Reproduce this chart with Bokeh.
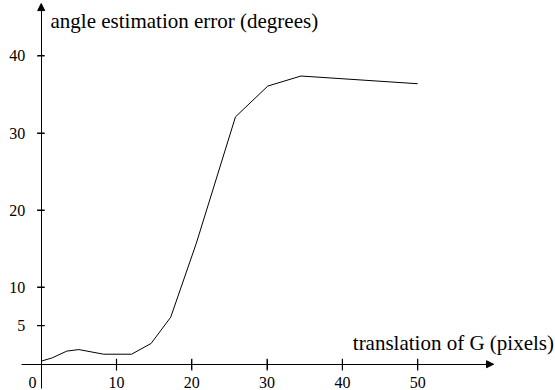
from bokeh.plotting import figure
from bokeh.models import Arrow, NormalHead, Label, FixedTicker, Range1d, LinearAxis
from bokeh.embed import file_html
from bokeh.resources import INLINE

# data
shift = [0, 1.4, 3.4, 5.0, 8.3, 12.0, 14.6, 17.2, 20.6, 25.8, 30.1, 34.5, 50.0]
error = [0.4, 0.8, 1.7, 1.9, 1.3, 1.3, 2.7, 6.1, 15.7, 32.1, 36.1, 37.4, 36.4]
x_ticks = [0, 10, 20, 30, 40, 50]
y_ticks = [5, 10, 20, 30, 40]
x_title = "translation of G (pixels)"
y_title = "angle estimation error (degrees)"

FONT = "Liberation Serif"

p = figure(width=555, height=390, output_backend="svg", toolbar_location=None,
           x_range=Range1d(-5.405, 68.30), y_range=Range1d(-3.41, 47.2),
           min_border=0, x_axis_type=None, y_axis_type=None)
p.outline_line_color = None
p.xgrid.visible = False
p.ygrid.visible = False
p.background_fill_color = "white"
p.border_fill_color = "white"

xa = LinearAxis(fixed_location=0, ticker=FixedTicker(ticks=x_ticks), bounds=(-2.6, 60.0))
ya = LinearAxis(fixed_location=0, ticker=FixedTicker(ticks=y_ticks), bounds=(-3.14, 46.7))
for ax in (xa, ya):
    ax.axis_line_color = "black"
    ax.axis_line_width = 1
    ax.major_tick_line_color = "black"
    ax.major_tick_line_width = 1
    ax.minor_tick_line_color = None
    ax.major_label_text_font = FONT
    ax.major_label_text_font_size = "16px"
    ax.major_label_text_color = "black"
xa.major_tick_in = 5
xa.major_tick_out = 5
xa.major_label_standoff = 8
xa.major_label_overrides = {0: ""}
ya.major_tick_in = 3
ya.major_tick_out = 4
ya.major_label_standoff = 12
p.add_layout(xa, "below")
p.add_layout(ya, "left")

# tick marks crossing the axes, at the ticker positions
xt = x_ticks[1:]
p.segment(x0=xt, y0=[-0.8] * len(xt), x1=xt, y1=[0.7] * len(xt),
          line_color="black", line_width=1.2)
p.segment(x0=[-0.55] * len(y_ticks), y0=y_ticks, x1=[0.45] * len(y_ticks), y1=y_ticks,
          line_color="black", line_width=1.2)

p.add_layout(Arrow(start=None, end=NormalHead(size=7, fill_color="black", line_color="black", line_width=1),
                   x_start=59.0, y_start=0, x_end=60.07, y_end=0, line_color="black", line_width=1))
p.add_layout(Arrow(start=None, end=NormalHead(size=7, fill_color="black", line_color="black", line_width=1),
                   x_start=0, y_start=45.8, x_end=0, y_end=46.8, line_color="black", line_width=1))

p.line(shift, error, line_color="black", line_width=1)

p.add_layout(Label(x=-1.16, y=0, y_offset=-24, text="0", text_align="center", text_baseline="bottom",
                   text_font=FONT, text_font_size="16px", text_color="black"))
p.add_layout(Label(x=1.24, y=44.6, text=y_title, text_align="left", text_baseline="middle",
                   text_font=FONT, text_font_size="21px", text_color="black"))
p.add_layout(Label(x=68.1, y=2.7, text=x_title, text_align="right", text_baseline="middle",
                   text_font=FONT, text_font_size="21px", text_color="black"))

open("out.html", "w").write(file_html(p, INLINE))
